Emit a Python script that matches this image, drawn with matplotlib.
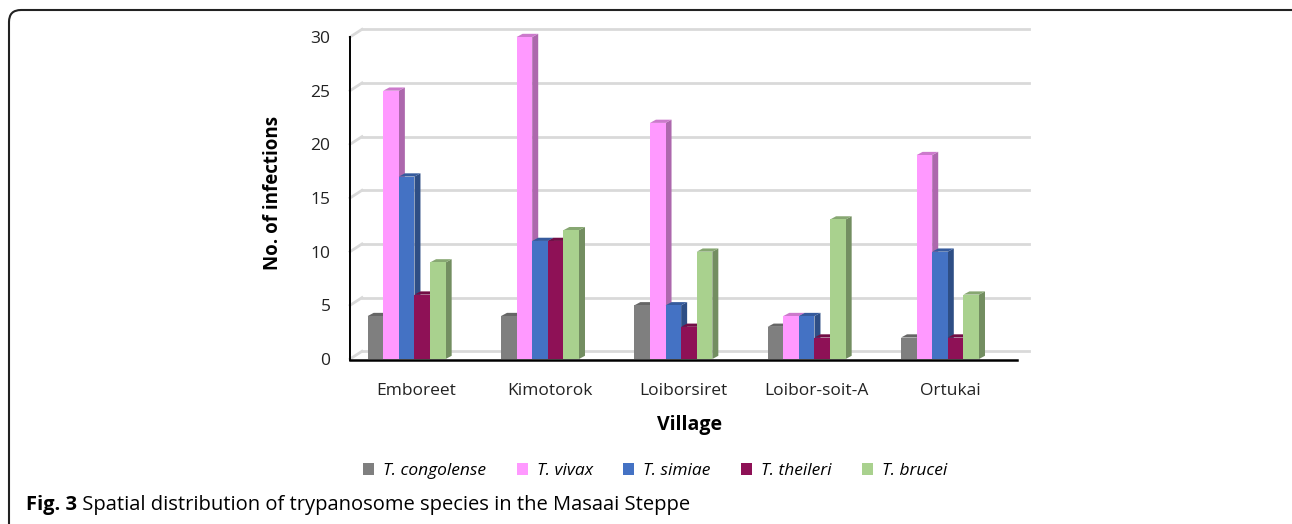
"""
Spatial distribution of trypanosome species - pseudo 3D clustered bars.
"""
import matplotlib
matplotlib.use("Agg")
import matplotlib.pyplot as plt
import matplotlib.colors as mcolors
from matplotlib.patches import Polygon, Patch, FancyBboxPatch
from matplotlib.transforms import IdentityTransform

villages = ["Emboreet", "Kimotorok", "Loiborsiret", "Loibor-soit-A", "Ortukai"]
species = ["T. congolense", "T. vivax", "T. simiae", "T. theileri", "T. brucei"]
congolense = [4, 4, 5, 3, 2]
vivax = [25, 30, 22, 4, 19]
simiae = [17, 11, 5, 4, 10]
theileri = [6, 11, 3, 2, 2]
brucei = [9, 12, 10, 13, 6]
yticks = [0, 5, 10, 15, 20, 25, 30]

series = [congolense, vivax, simiae, theileri, brucei]
colors = ["#7F7F7F", "#FF99FF", "#4472C4", "#8E1156", "#A9D18E"]

plt.rcParams["font.family"] = ["Open Sans", "DejaVu Sans"]

W, H, DPI = 1292, 524, 100
fig = plt.figure(figsize=(W / DPI, H / DPI), dpi=DPI)
fig.patch.set_facecolor("white")

# axes: x from -0.5..4.6 over px 350..1030; y 0..31 over px 359..26
ax = fig.add_axes([350 / W, (H - 359) / H, 680 / W, 332.7 / H])
ax.set_xlim(-0.5, 4.6)
ax.set_ylim(0, 31)
for sp in ax.spines.values():
    sp.set_visible(False)

# back wall grid (shifted for depth)
gx, gy = 0.09, 0.72
for t in yticks:
    ax.plot([-0.5, -0.5 + gx], [t, t + gy], color="#D9D9D9", lw=2, zorder=1, clip_on=False)
    ax.plot([-0.5 + gx, 4.5 + gx], [t + gy, t + gy], color="#D9D9D9", lw=2, zorder=1, clip_on=False)

# bars
w = 0.117
shift = -0.075
dx, dy = 0.045, 0.3


def darker(c, f):
    r, g, b = mcolors.to_rgb(c)
    return (r * f, g * f, b * f)


z = 2
for gi in range(len(villages)):
    for si, vals in enumerate(series):
        h = vals[gi]
        x0 = gi + shift + (si - 2.5) * w
        x1 = x0 + w
        c = colors[si]
        ax.add_patch(Polygon([(x1, 0), (x1 + dx, dy), (x1 + dx, h + dy), (x1, h)],
                             closed=True, fc=darker(c, 0.68), ec="none", zorder=z))
        ax.add_patch(Polygon([(x0, h), (x1, h), (x1 + dx, h + dy), (x0 + dx, h + dy)],
                             closed=True, fc=darker(c, 0.8), ec="none", zorder=z))
        ax.bar(x0, h, width=w, align="edge", color=c, edgecolor="none", zorder=z + 0.5)
        z += 1

# front axis lines
ax.plot([-0.5, 4.5], [-0.1, -0.1], color="black", lw=1.8, zorder=100, clip_on=False)
ax.plot([-0.5, -0.5], [-0.1, 30], color="black", lw=1.4, zorder=100, clip_on=False)

ax.set_yticks(yticks)
ax.set_yticklabels([str(t) for t in yticks], fontsize=12.5, color="#222222")
ax.set_xticks(range(len(villages)))
ax.set_xticklabels(villages, fontsize=12.5, color="#222222")
ax.tick_params(axis="y", length=0, pad=14)
ax.tick_params(axis="x", length=0, pad=17)

ax.set_ylabel("No. of infections", fontsize=13.5, fontweight="bold", labelpad=20)
ax.set_xlabel("Village", fontsize=14, fontweight="bold", labelpad=12)

handles = [Patch(facecolor=c, edgecolor="none") for c in colors]
fig.legend(handles, species, loc="center", bbox_to_anchor=(655 / W, 1 - 471 / H),
           ncol=5, frameon=False, prop={"size": 12.5, "style": "italic"},
           handlelength=0.65, handleheight=0.65, handletextpad=0.5, columnspacing=1.75)

# caption
t1 = fig.text(26 / W, 1 - 505 / H, "Fig. 3", fontsize=14.5, fontweight="bold",
              va="center", ha="left")
ax.annotate(" Spatial distribution of trypanosome species in the Masaai Steppe",
            xy=(1, 0), xycoords=t1, va="bottom", ha="left", fontsize=14.5,
            annotation_clip=False)

# rounded frame around the figure panel
frame = FancyBboxPatch((9, -40), W + 40, H + 40 - 10,
                       boxstyle="round,pad=0,rounding_size=12",
                       transform=IdentityTransform(), fill=False,
                       ec="#222222", lw=1.5, zorder=200)
fig.add_artist(frame)

fig.savefig("out.png", dpi=DPI, facecolor="white")
